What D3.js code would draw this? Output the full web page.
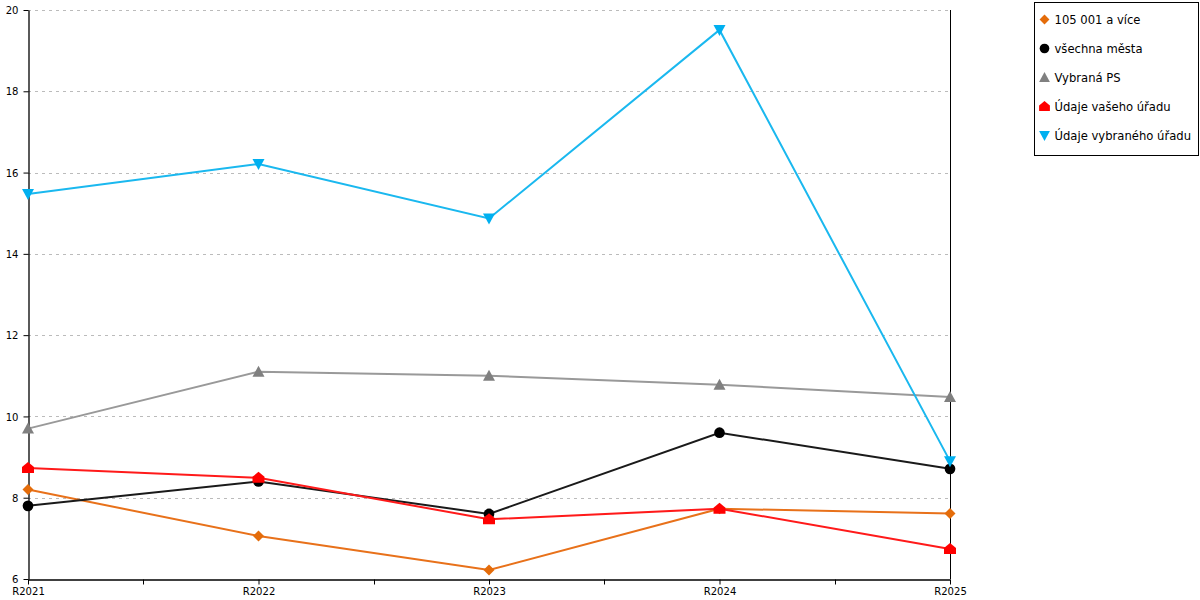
<!DOCTYPE html>
<html>
<head>
<meta charset="utf-8">
<script src="https://cdn.jsdelivr.net/npm/d3@7/dist/d3.min.js"></script>
<style>
  body { margin: 0; background: #fff; }
  svg { font-family: "DejaVu Sans", Verdana, sans-serif; }
  .tick text { font-family: "DejaVu Sans Condensed", "DejaVu Sans", sans-serif; }
</style>
</head>
<body>
<svg width="1200" height="600"></svg>
<script>
// chart data
const categories = ['R2021', 'R2022', 'R2023', 'R2024', 'R2025'];
const yTicks = [6, 8, 10, 12, 14, 16, 18, 20];
const seriesNames = ['105 001 a více', 'všechna města', 'Vybraná PS', 'Údaje vašeho úřadu', 'Údaje vybraného úřadu'];
const valuesBig = [8.2, 7.06, 6.22, 7.73, 7.61];
const valuesAll = [7.8, 8.4, 7.6, 9.6, 8.71];
const valuesPS = [9.7, 11.1, 11.0, 10.78, 10.48];
const valuesYours = [8.73, 8.49, 7.47, 7.73, 6.74];
const valuesSelected = [15.47, 16.21, 14.87, 19.51, 8.9];

const series = [
    { name: seriesNames[0], values: valuesBig, line: '#e8711a', fill: '#e46c0a', marker: 'diamond' },
    { name: seriesNames[1], values: valuesAll, line: '#1a1a1a', fill: '#000', marker: 'circle' },
    { name: seriesNames[2], values: valuesPS, line: '#999', fill: '#808080', marker: 'triangle' },
    { name: seriesNames[3], values: valuesYours, line: '#ff1a1a', fill: '#ff0000', marker: 'house' },
    { name: seriesNames[4], values: valuesSelected, line: '#1ab8ef', fill: '#00b0f0', marker: 'triangleDown' },
];

const margin = { left: 28, top: 10 };
const plotW = 922;
const plotH = 569;

const svg = d3.select('svg');
const g = svg.append('g').attr('transform', `translate(${margin.left},${margin.top})`);

const x = d3.scalePoint().domain(categories).range([0, plotW]);
const y = d3.scaleLinear().domain([6, 20]).range([plotH, 0]);

// grid
g.append('g')
    .selectAll('line')
    .data(yTicks.slice(1))
    .enter()
    .append('line')
    .attr('x1', 0)
    .attr('x2', plotW)
    .attr('y1', (d) => Math.round(y(d)) + 0.5)
    .attr('y2', (d) => Math.round(y(d)) + 0.5)
    .style('stroke', '#bbb')
    .style('stroke-dasharray', '3,4');

// right border
g.append('line')
    .attr('x1', plotW + 0.5).attr('x2', plotW + 0.5)
    .attr('y1', 0).attr('y2', plotH)
    .style('stroke', '#000');

// y axis
const yAxis = g.append('g')
    .attr('transform', 'translate(0.5,0)')
    .call(d3.axisLeft(y).tickValues(yTicks).tickSize(5).tickPadding(5).tickSizeOuter(0));
yAxis.selectAll('text').style('font-size', '11.2px').style('fill', '#000');
yAxis.select('.domain').style('stroke-width', 1.3);

// x axis with minor ticks in between
const xAxis = g.append('g')
    .attr('transform', `translate(0,${plotH + 0.5})`)
    .call(d3.axisBottom(x).tickSize(5).tickPadding(3).tickSizeOuter(0));
xAxis.selectAll('text').style('font-size', '11.2px').style('fill', '#000');
xAxis.select('.domain').style('stroke-width', 1.3);
const step = x.step();
xAxis.selectAll('.minor')
    .data(categories.slice(1))
    .enter()
    .append('line')
    .attr('x1', (d) => Math.round(x(d) - step / 2) + 0.5)
    .attr('x2', (d) => Math.round(x(d) - step / 2) + 0.5)
    .attr('y1', 0)
    .attr('y2', 5)
    .style('stroke', '#000');

const symbolPath = {
    diamond: 'M0,-5.5L5.5,0L0,5.5L-5.5,0Z',
    circle: d3.symbol(d3.symbolCircle, 90)(),
    triangle: 'M0,-6L6,5L-6,5Z',
    triangleDown: 'M0,6L6,-5L-6,-5Z',
    house: 'M0,-6L6,-1L6,5L-6,5L-6,-1Z',
};

const line = d3.line()
    .x((d, i) => x(categories[i]))
    .y((d) => y(d));

series.forEach((s) => {
    g.append('path')
        .datum(s.values)
        .attr('d', line)
        .style('fill', 'none')
        .style('stroke', s.line)
        .style('stroke-width', 2);
});

series.forEach((s) => {
    g.selectAll(null)
        .data(s.values)
        .enter()
        .append('path')
        .attr('d', symbolPath[s.marker])
        .attr('transform', (d, i) => `translate(${x(categories[i])},${y(d)})`)
        .style('fill', s.fill);
});

// legend
const legend = svg.append('g').attr('transform', 'translate(1034.5,2.5)');
legend.append('rect')
    .attr('width', 164)
    .attr('height', 153)
    .style('fill', '#fff')
    .style('stroke', '#000');
const item = legend.selectAll('.item')
    .data(series)
    .enter()
    .append('g')
    .attr('transform', (d, i) => `translate(10,${17 + i * 29})`);
item.append('path')
    .attr('d', (d) => symbolPath[d.marker])
    .attr('transform', 'scale(0.9)')
    .style('fill', (d) => d.fill);
item.append('text')
    .attr('x', 10)
    .attr('dy', '0.35em')
    .style('font-size', '11.6px')
    .text((d) => d.name);
</script>
</body>
</html>
